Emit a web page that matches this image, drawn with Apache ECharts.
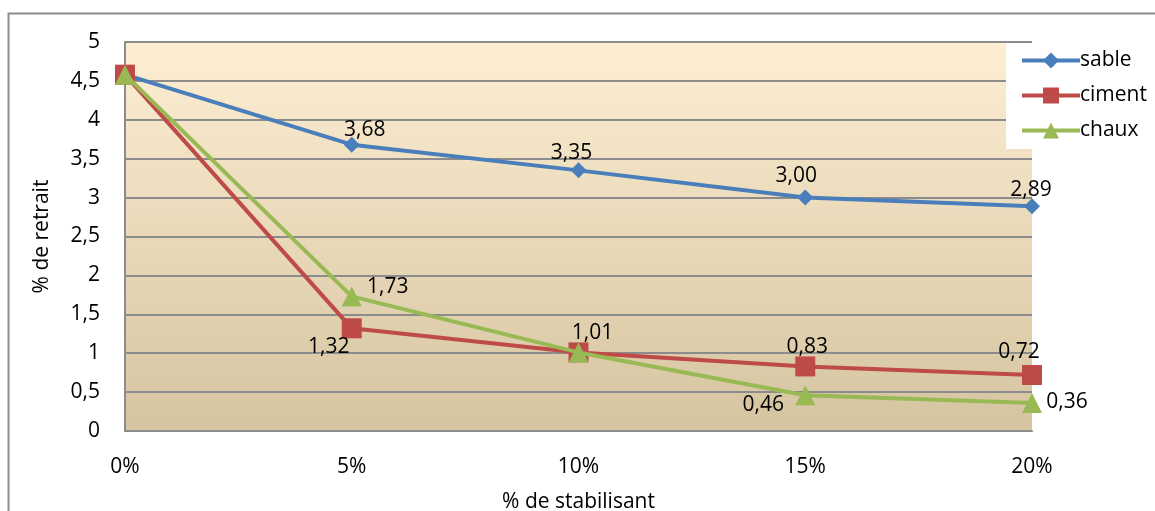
<!DOCTYPE html>
<html>
<head>
<meta charset="utf-8">
<script src="https://cdn.jsdelivr.net/npm/echarts@6/dist/echarts.min.js"></script>
<style>
html, body { margin: 0; padding: 0; background: #fff; overflow: hidden; }
#main { width: 1155px; height: 511px; }
</style>
</head>
<body>
<div id="main"></div>
<script>
// donnees
var categories = ['0%', '5%', '10%', '15%', '20%'];
var sable = [4.58, 3.68, 3.35, 3.00, 2.89];
var ciment = [4.58, 1.32, 1.01, 0.83, 0.72];
var chaux = [4.58, 1.73, 1.01, 0.46, 0.36];
var yTicks = [0, 0.5, 1, 1.5, 2, 2.5, 3, 3.5, 4, 4.5, 5];

var FONT = '"Open Sans", "Noto Sans", sans-serif';
var FS = 21;

function virgule(v) {
    return String(v).replace('.', ',');
}

// decalage des etiquettes par rapport au centre du point (null = pas d'etiquette)
function points(values, offsets) {
    var out = [];
    for (var i = 0; i < values.length; i++) {
        var o = offsets[i];
        var item = { value: values[i] };
        if (!o) {
            item.label = { show: false };
        } else {
            item.label = { show: true, position: 'inside', offset: o };
        }
        out.push(item);
    }
    return out;
}

var labelStyle = {
    color: '#000',
    fontFamily: FONT,
    fontSize: FS,
    formatter: function (p) { return p.value.toFixed(2).replace('.', ','); }
};

var myChart = echarts.init(document.getElementById('main'));

var option = {
    animation: false,
    graphic: [{
        type: 'rect',
        shape: { x: 8.5, y: 13.5, width: 1200, height: 600 },
        style: { fill: 'none', stroke: '#8c8c8c', lineWidth: 2 },
        z: 0
    }],
    grid: {
        left: 125, right: 123, top: 42, bottom: 80,
        outerBoundsMode: 'none',
        containLabel: false,
        show: true,
        borderWidth: 0,
        backgroundColor: new echarts.graphic.LinearGradient(0, 0, 0, 1, [
            { offset: 0, color: '#FEEED3' },
            { offset: 1, color: '#D4C4A0' }
        ])
    },
    legend: {
        left: 1006,
        top: 43,
        orient: 'vertical',
        backgroundColor: '#fff',
        padding: [7, 12, 8, 14],
        itemGap: 14,
        itemWidth: 58,
        itemHeight: 20,
        lineStyle: { width: 4 },
        textStyle: { fontFamily: FONT, fontSize: FS, color: '#000', padding: [0, 0, 0, -5] },
        data: ['sable', 'ciment', 'chaux']
    },
    xAxis: {
        type: 'category',
        boundaryGap: false,
        data: categories,
        name: '% de stabilisant',
        nameLocation: 'middle',
        nameGap: 61,
        nameTextStyle: { fontFamily: FONT, fontSize: FS, color: '#000' },
        axisLine: { lineStyle: { color: '#8c8c8c', width: 2 } },
        axisTick: { show: false },
        axisLabel: { fontFamily: FONT, fontSize: FS, color: '#000', margin: 26 },
        splitLine: { show: false }
    },
    yAxis: {
        type: 'value',
        min: 0,
        max: 5,
        interval: 0.5,
        name: '% de retrait',
        nameLocation: 'middle',
        nameGap: 72,
        nameTextStyle: { fontFamily: FONT, fontSize: FS, color: '#000' },
        axisLine: { show: true, lineStyle: { color: '#8c8c8c', width: 2 } },
        axisTick: { show: false },
        axisLabel: {
            fontFamily: FONT, fontSize: FS, color: '#000', margin: 25,
            formatter: function (v) { return yTicks.indexOf(v) >= 0 ? virgule(v) : ''; }
        },
        splitLine: { lineStyle: { color: '#8c8c8c', width: 2 } }
    },
    series: [
        {
            name: 'sable',
            type: 'line',
            data: points(sable, [null, [13, -15], [-7, -17], [-9, -22], [-1, -16]]),
            color: '#4A7EBB',
            lineStyle: { width: 4, color: '#4A7EBB' },
            symbol: 'diamond',
            symbolSize: 16,
            itemStyle: { color: '#4A7EBB' },
            label: labelStyle,
            z: 3
        },
        {
            name: 'ciment',
            type: 'line',
            data: points(ciment, [null, [-23, 19], [14, -19], [2, -19], [-13, -23]]),
            color: '#BE4B48',
            lineStyle: { width: 4, color: '#BE4B48' },
            symbol: 'rect',
            symbolSize: 20,
            itemStyle: { color: '#BE4B48' },
            label: labelStyle,
            z: 4
        },
        {
            name: 'chaux',
            type: 'line',
            data: points(chaux, [null, [36, -9], null, [-42, 10], [35, -1]]),
            color: '#98B954',
            lineStyle: { width: 4, color: '#98B954' },
            symbol: 'triangle',
            symbolSize: 20,
            itemStyle: { color: '#98B954' },
            label: labelStyle,
            z: 5
        }
    ]
};

myChart.setOption(option);
window.onresize = myChart.resize;
</script>
</body>
</html>
